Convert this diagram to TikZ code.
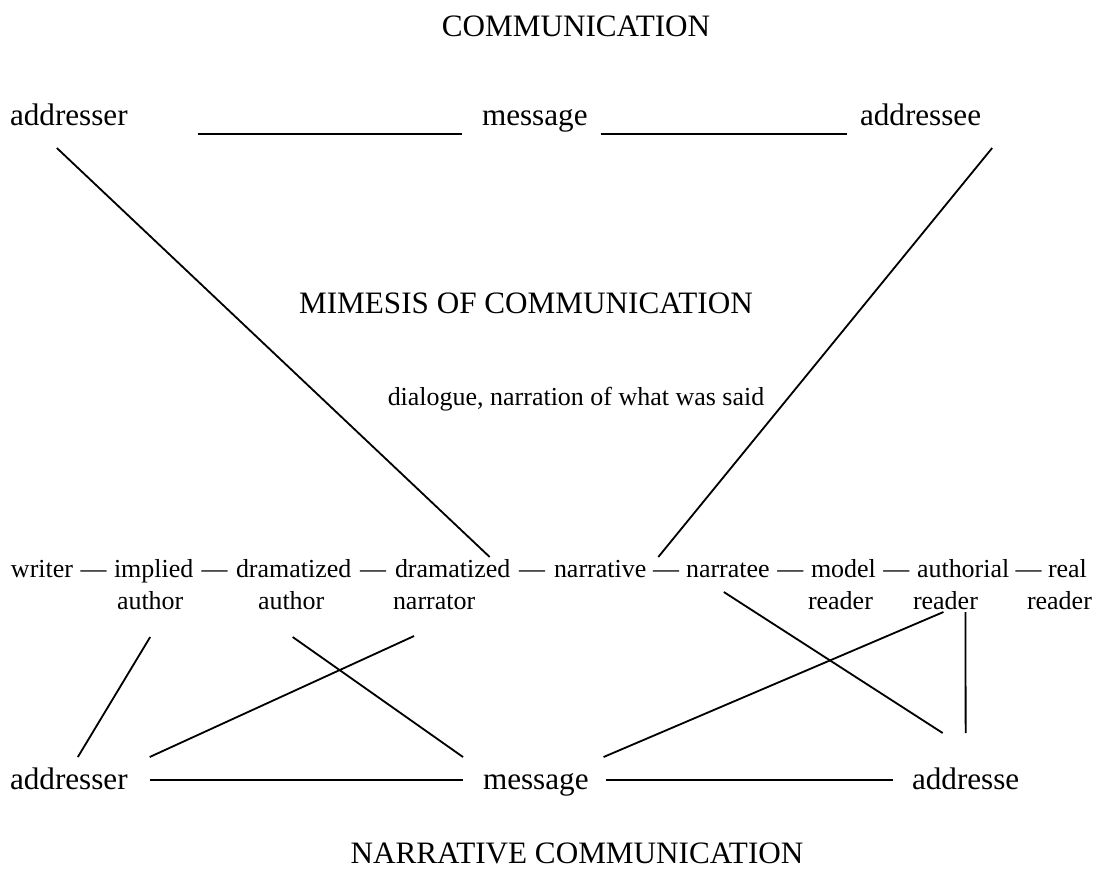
\documentclass[tikz,border=0pt]{standalone}
\usepackage{fontspec}
\setmainfont{Liberation Serif}
\usetikzlibrary{calc}

\begin{document}
\begin{tikzpicture}[x=0.385pt,y=-0.385pt,line width=0.7pt,
  every node/.style={inner sep=0pt,outer sep=0pt},
  big/.style={font=\fontsize{12}{14}\selectfont,anchor=base west},
  term/.style={font=\fontsize{10}{12}\selectfont,anchor=base west},
  emdash/.style={font=\fontsize{10}{12}\selectfont,anchor=base}]
 \useasboundingbox (0,0) rectangle (1106,869);
 \node[big,anchor=base] (com) at (576,36) {COMMUNICATION};
 \node[big] (tad) at (10,125) {addresser};
 \node[big] (tms) at (482,125) {message};
 \node[big] (tae) at (860,125) {addressee};
 \node[big,anchor=base] (mim) at (526,313) {MIMESIS OF COMMUNICATION};
 \node[term,anchor=base] (dia) at (576,405) {dialogue, narration of what was said};
 \foreach \n/\x/\w in {wr/11/writer, ia/114/implied, da/236/dramatized,
   dn/395/dramatized, nv/554/narrative, ne/686/narratee, mr/811/model,
   ar/917/authorial, rr/1048/real}
   \node[term] (\n) at (\x,577) {\w};
 \foreach \n/\x/\w in {ia2/117/author, da2/258/author, dn2/393/narrator,
   mr2/808/reader, ar2/913/reader, rr2/1027/reader}
   \node[term] (\n) at (\x,609) {\w};
 \foreach \a/\b in {wr/ia, ia/da, da/dn, dn/nv, nv/ne, ne/mr, mr/ar, ar/rr}
   \node[emdash] at ($(\a.base east)!.5!(\b.base west)$) {\textemdash};
 \node[big] (bad) at (10,789) {addresser};
 \node[big] (bms) at (483,789) {message};
 \node[big] (bae) at (912,789) {addresse};
 \node[big,anchor=base] (nar) at (577,863) {NARRATIVE COMMUNICATION};

 \draw ([shift={(70,9)}]tad.base east) -- ([shift={(-20,9)}]tms.base west);
 \draw ([shift={(13,9)}]tms.base east) -- ([shift={(-13,9)}]tae.base west);
 \draw ([shift={(-12,23)}]tad.base) -- ([shift={(37,-20)}]dn.base);
 \draw ([shift={(11,23)}]tae.base east) -- ([shift={(12,-20)}]nv.base east);
 \draw ([shift={(0,28)}]ia2.base) -- ([shift={(9,-32)}]bad.base);
 \draw ([shift={(1.5,28)}]da2.base) -- ([shift={(-20,-32)}]bms.base west);
 \draw ([shift={(-20,27)}]dn2.base) -- ([shift={(22,-32)}]bad.base east);
 \draw ([shift={(-4,15)}]ne.base) -- ([shift={(-23,-56)}]bae.base);
 \draw ([shift={(-2,3)}]ar2.base) -- ([shift={(15,-32)}]bms.base east);
 \draw ([shift={(20,3)}]ar2.base) -- ([shift={(0,-56)}]bae.base);
 \draw ([shift={(22,-9)}]bad.base east) -- ([shift={(-20,-9)}]bms.base west);
 \draw ([shift={(17,-9)}]bms.base east) -- ([shift={(-19,-9)}]bae.base west);
\end{tikzpicture}
\end{document}
